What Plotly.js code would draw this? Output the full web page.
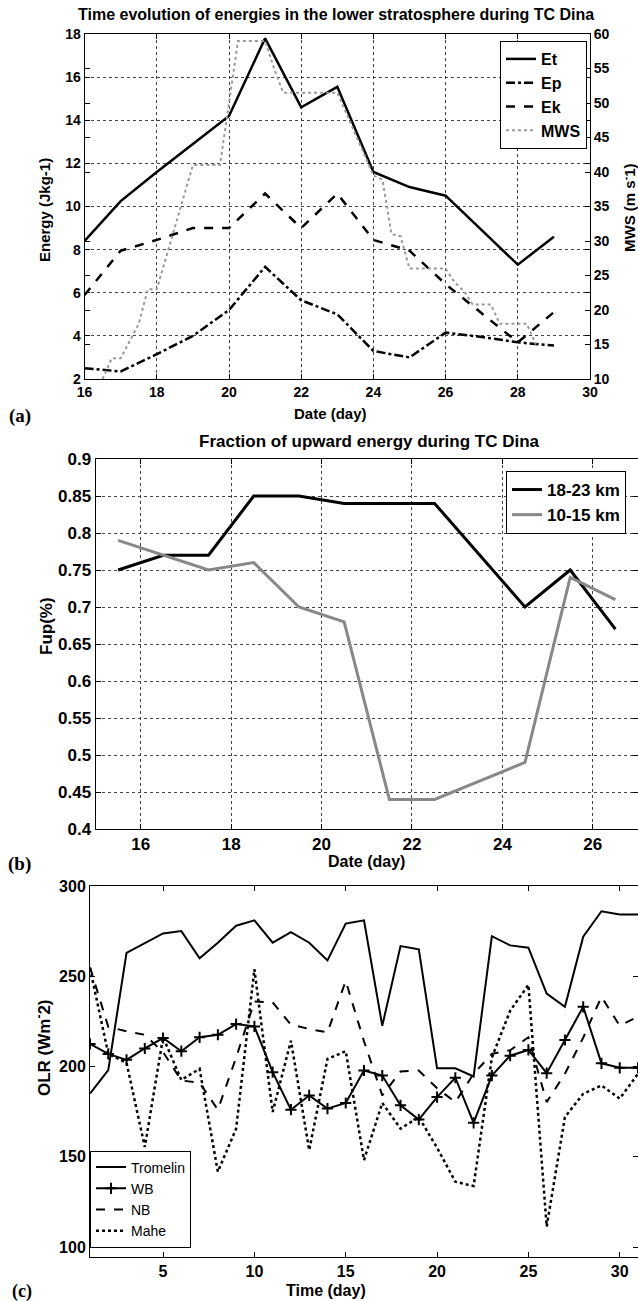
<!DOCTYPE html>
<html><head><meta charset="utf-8">
<script src="https://cdn.plot.ly/plotly-3.0.1.min.js"></script>
<style>html,body{margin:0;padding:0;background:#fff;} #chart{width:638px;height:1301px;}</style>
</head><body><div id="chart"></div>
<script>
// ---------- Panel (a): energies in the lower stratosphere ----------
const daysA = [16, 17, 18, 19, 20, 21, 22, 23, 24, 25, 26, 27, 28, 29];
const Et = [8.4, 10.25, 11.6, 12.9, 14.2, 17.8, 14.6, 15.55, 11.6, 10.9, 10.5, 8.9, 7.3, 8.6];
const Ep = [2.5, 2.35, 3.15, 4.0, 5.2, 7.2, 5.65, 5.0, 3.3, 3.0, 4.15, 3.95, 3.7, 3.55];
const Ek = [5.9, 7.95, 8.45, 9.0, 9.0, 10.6, 9.0, 10.6, 8.45, 7.95, 6.4, 5.05, 3.7, 5.1];
const mwsDays = [16.5, 16.75, 17.0, 17.25, 17.5, 17.75, 18.0, 18.25, 18.5, 18.75, 19.0, 19.25, 19.5, 19.75,
  20.0, 20.25, 20.5, 20.75, 21.0, 21.25, 21.5, 21.75, 22.0, 22.25, 22.5, 22.75, 23.0, 23.25, 23.5, 23.75,
  24.0, 24.25, 24.5, 24.75, 25.0, 25.25, 25.5, 25.75, 26.0, 26.25, 26.5, 26.75, 27.0, 27.25, 27.5, 27.75,
  28.0, 28.25, 28.5];
const MWS = [10, 13, 13, 15.5, 18, 23, 23, 27.5, 32, 36.5, 41, 41, 41, 41,
  50, 59, 59, 59, 59, 55, 51.5, 51.5, 51.5, 51.5, 51.5, 51.5, 51.5, 48.5, 45.5, 42.5,
  39.5, 38.9, 31, 30.7, 26, 26, 26, 26, 26, 24, 22.8, 20.8, 20.8, 20.8, 18, 18,
  18, 18, 15];

// ---------- Panel (b): fraction of upward energy ----------
const daysB = [15.5, 16.5, 17.5, 18.5, 19.5, 20.5, 21.5, 22.5, 24.5, 25.5, 26.5];
const fupHigh = [0.75, 0.77, 0.77, 0.85, 0.85, 0.84, 0.84, 0.84, 0.70, 0.75, 0.67]; // 18-23 km
const fupLow = [0.79, 0.77, 0.75, 0.76, 0.70, 0.68, 0.44, 0.44, 0.49, 0.74, 0.71];  // 10-15 km

// ---------- Panel (c): OLR ----------
const daysC = [1,2,3,4,5,6,7,8,9,10,11,12,13,14,15,16,17,18,19,20,21,22,23,24,25,26,27,28,29,30,31];
const Tromelin = [185, 198, 263, 268.5, 273.7, 275, 260, 268.6, 278, 281, 268.6, 274.4, 268.6, 258.8, 279.2, 281,
  222.6, 266.7, 264.9, 199, 199, 194.5, 272.2, 267.1, 265.8, 240.4, 233.1, 271.9, 286, 284.2, 284.2];
const WB = [212.5, 207, 203.7, 210, 215.8, 208.5, 216.2, 217.6, 223.5, 222.2, 196.9, 176.1, 184, 176.7, 179.8, 197.8,
  195, 178.5, 170.6, 183.1, 193.8, 168.8, 195, 206, 209.2, 196.3, 214.7, 233.1, 201.8, 199.3, 199.3];
const NB = [255, 222, 219.5, 217.6, 208, 192.3, 191, 176.1, 205, 236, 235.5, 223.2, 220.8, 218.9, 247.4, 214,
  184, 197.2, 197.8, 188, 180.3, 196, 207, 209, 216.2, 180.3, 196, 216, 238.6, 222.6, 227.6];
const Mahe = [254.4, 207, 202, 155.5, 216.2, 192.6, 198.7, 141.7, 165.6, 253.9, 174.8, 214.3, 153.7, 204.2, 208.5, 148.2,
  179.8, 165.6, 172, 155, 136.2, 133.8, 205, 230.9, 245.2, 111.4, 172, 184.9, 189.5, 182.2, 196];

const W = 638, H = 1301;
const X = px => px / W;
const Y = px => 1 - px / H;
const FAM = 'Liberation Sans, Arial, Helvetica, sans-serif';
const SERIF = 'Liberation Serif, Times New Roman, serif';
const bold = (s) => ({family: FAM, size: s, color: '#000', weight: 'bold'});
const serifBold = (s) => ({family: SERIF, size: s, color: '#000', weight: 'bold'});

const traces = [
  {x: daysA, y: Et, name: 'Et', xaxis: 'x', yaxis: 'y', mode: 'lines', line: {color: '#000', width: 2.5}},
  {x: daysA, y: Ep, name: 'Ep', xaxis: 'x', yaxis: 'y', mode: 'lines', line: {color: '#000', width: 2.5, dash: 'dashdot'}},
  {x: daysA, y: Ek, name: 'Ek', xaxis: 'x', yaxis: 'y', mode: 'lines', line: {color: '#000', width: 2.5, dash: 'dash'}},
  {x: mwsDays, y: MWS, name: 'MWS', xaxis: 'x', yaxis: 'y2', mode: 'lines', line: {color: '#999', width: 2, dash: 'dot'}},

  {x: daysB, y: fupHigh, name: '18-23 km', xaxis: 'x2', yaxis: 'y3', mode: 'lines', legend: 'legend2', line: {color: '#000', width: 3}},
  {x: daysB, y: fupLow, name: '10-15 km', xaxis: 'x2', yaxis: 'y3', mode: 'lines', legend: 'legend2', line: {color: '#888', width: 3}},

  {x: daysC, y: Tromelin, name: 'Tromelin', xaxis: 'x3', yaxis: 'y4', mode: 'lines', legend: 'legend3', line: {color: '#000', width: 2}},
  {x: daysC, y: WB, name: 'WB', xaxis: 'x3', yaxis: 'y4', mode: 'lines+markers', legend: 'legend3', line: {color: '#000', width: 2},
    marker: {symbol: 'cross-thin', size: 8, line: {color: '#000', width: 2}}},
  {x: daysC, y: NB, name: 'NB', xaxis: 'x3', yaxis: 'y4', mode: 'lines', legend: 'legend3', line: {color: '#000', width: 2, dash: 'dash'}},
  {x: daysC, y: Mahe, name: 'Mahe', xaxis: 'x3', yaxis: 'y4', mode: 'lines', legend: 'legend3', line: {color: '#000', width: 2.5, dash: 'dot'}}
];

const axBase = {
  showline: true, linecolor: '#000', linewidth: 1, mirror: 'ticks',
  ticks: 'inside', ticklen: 5, tickcolor: '#000', zeroline: false,
  griddash: 'dot', gridcolor: '#444', gridwidth: 1
};

const layout = {
  width: W, height: H, margin: {l: 0, r: 0, t: 0, b: 0},
  paper_bgcolor: '#fff', plot_bgcolor: '#fff',
  font: {family: FAM, color: '#000'},
  xaxis: Object.assign({}, axBase, {domain: [X(84.6), X(590)], anchor: 'y', range: [16, 30], tick0: 16, dtick: 2, showgrid: true, tickfont: bold(14)}),
  yaxis: Object.assign({}, axBase, {domain: [Y(379), Y(34)], anchor: 'x', range: [2, 18], tick0: 2, dtick: 2, showgrid: true, tickfont: bold(14)}),
  yaxis2: Object.assign({}, axBase, {overlaying: 'y', side: 'right', anchor: 'x', range: [10, 60], tick0: 10, dtick: 5, showgrid: false, tickfont: bold(14)}),

  xaxis2: Object.assign({}, axBase, {domain: [X(95.5), 1], anchor: 'y3', range: [15, 27], tick0: 16, dtick: 2, showgrid: true, tickfont: bold(17)}),
  yaxis3: Object.assign({}, axBase, {domain: [Y(829), Y(459)], anchor: 'x2', range: [0.4, 0.9], tick0: 0.4, dtick: 0.05, showgrid: true, tickfont: bold(17)}),

  xaxis3: Object.assign({}, axBase, {domain: [X(90), 1], anchor: 'y4', range: [1, 31], tick0: 5, dtick: 5, showgrid: false, tickfont: bold(16)}),
  yaxis4: Object.assign({}, axBase, {domain: [Y(1257), Y(886)], anchor: 'x3', range: [94.5, 300], tick0: 100, dtick: 50, showgrid: false, tickfont: bold(16)}),

  legend: {x: X(500), y: Y(41), xanchor: 'left', yanchor: 'top', bgcolor: '#fff', bordercolor: '#000', borderwidth: 1,
    font: bold(16), itemwidth: 30, tracegroupgap: 0},
  legend2: {x: X(506), y: Y(471), xanchor: 'left', yanchor: 'top', bgcolor: '#fff', bordercolor: '#000', borderwidth: 1,
    font: bold(17), itemwidth: 30},
  legend3: {x: X(90), y: Y(1247.5), xanchor: 'left', yanchor: 'bottom', bgcolor: '#fff', bordercolor: '#000', borderwidth: 1,
    font: {family: FAM, size: 14, color: '#000'}, itemwidth: 30},

  annotations: [
    {text: 'Time evolution of energies in the lower stratosphere during TC Dina', x: X(336), y: Y(15), font: bold(16)},
    {text: 'Date (day)', x: X(330), y: Y(414), font: bold(15)},
    {text: 'Energy (Jkg-1)', x: X(45), y: Y(210), textangle: -90, font: bold(15)},
    {text: 'MWS (m s<sup>-</sup>1)', x: X(629), y: Y(208), textangle: -90, font: bold(15)},
    {text: '(a)', x: X(20), y: Y(416), font: serifBold(19)},

    {text: 'Fraction of upward energy during TC Dina', x: X(369), y: Y(442), font: bold(17)},
    {text: 'Date (day)', x: X(367), y: Y(861), font: bold(16)},
    {text: 'Fup(%)', x: X(46), y: Y(626), textangle: -90, font: bold(17)},
    {text: '(b)', x: X(20), y: Y(864), font: serifBold(19)},

    {text: 'OLR (Wm<sup>-</sup>2)', x: X(43), y: Y(1048), textangle: -90, font: bold(17)},
    {text: 'Time (day)', x: X(326), y: Y(1290), font: bold(16)},
    {text: '(c)', x: X(22), y: Y(1291), font: serifBold(18)}
  ].map(a => Object.assign({xref: 'paper', yref: 'paper', showarrow: false, xanchor: 'center', yanchor: 'middle'}, a))
};

Plotly.newPlot('chart', traces, layout, {staticPlot: true, displayModeBar: false});
</script></body></html>
